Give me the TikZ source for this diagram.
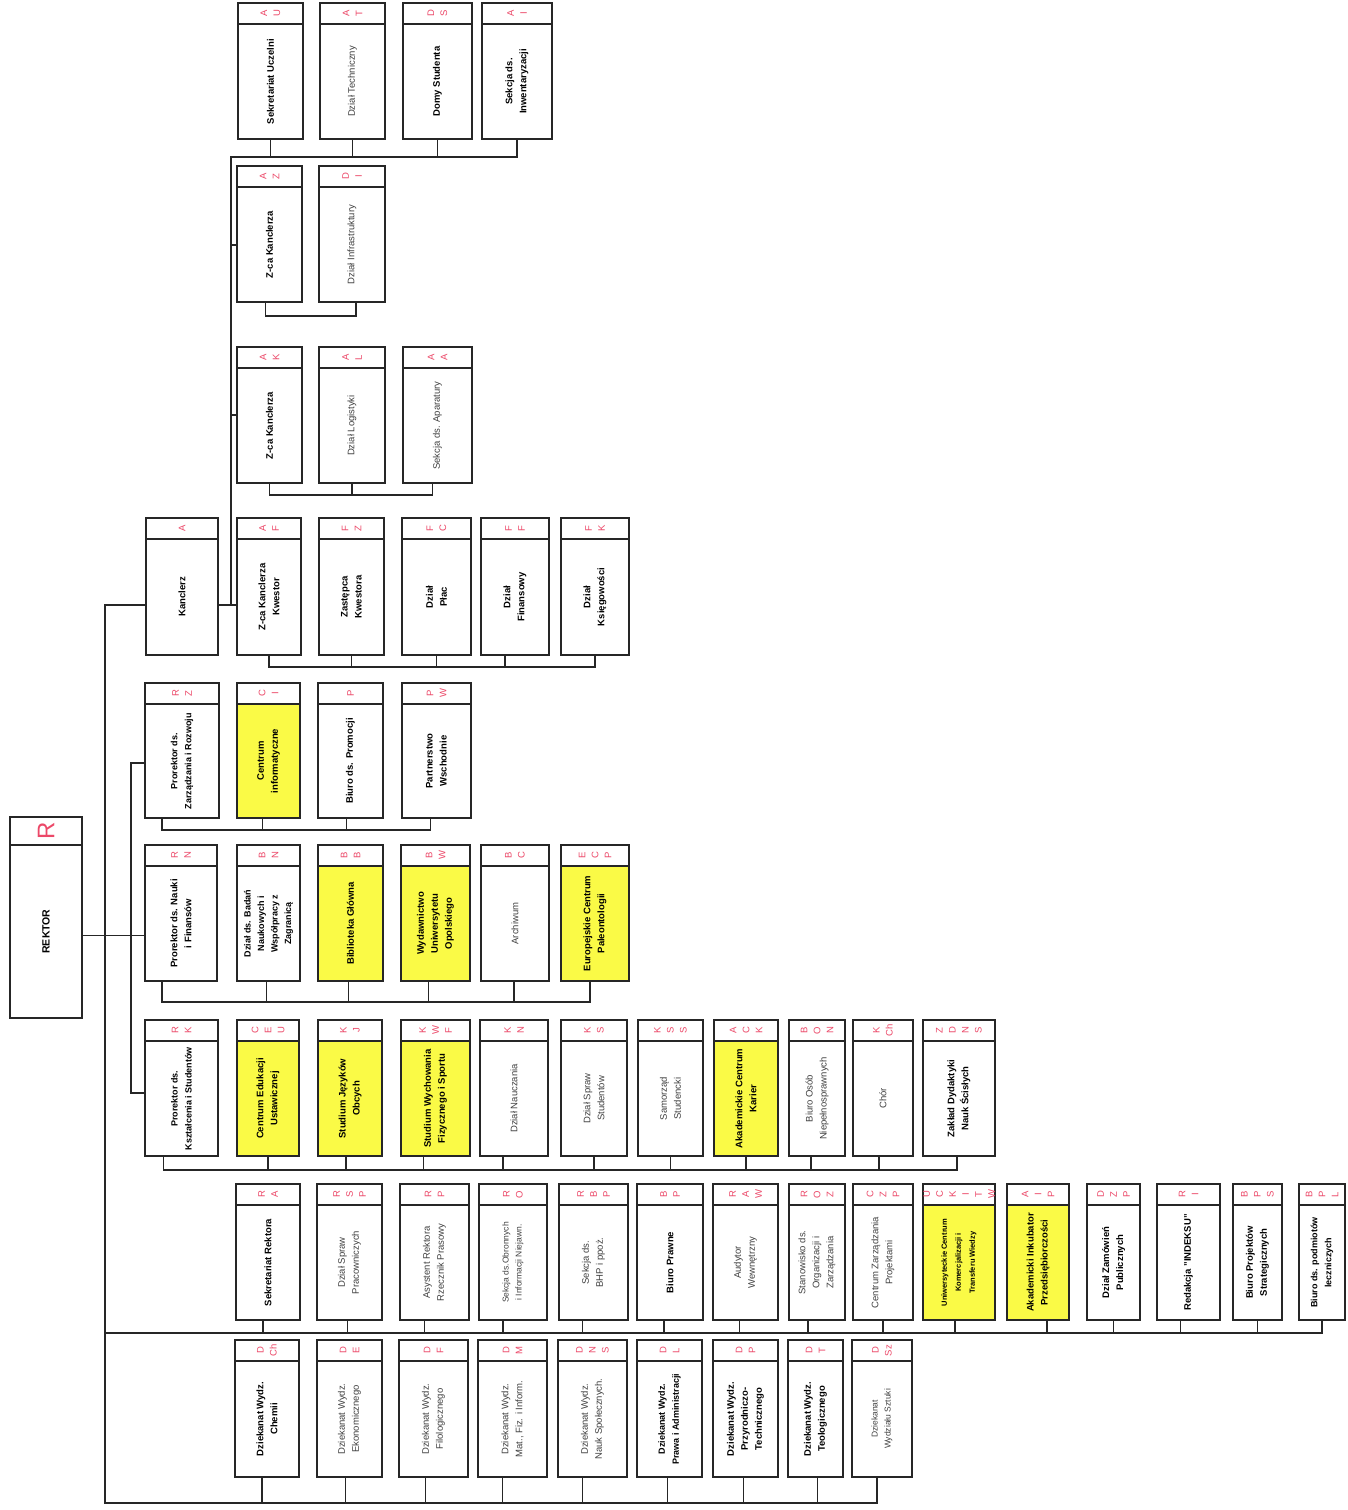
\documentclass[tikz,border=0pt]{standalone}
\usepackage{fontspec}
\setmainfont{Liberation Sans}
\usetikzlibrary{calc}

\definecolor{codered}{RGB}{236,72,104}
\definecolor{unityellow}{RGB}{250,250,70}

% fill, name, x1, x2, y1, y2, code, text style, text
\newcommand{\orgunit}[9][white]{%
  \fill[#1] (#3,{#5+21}) rectangle (#4,#6);
  \node[unitbox, minimum width={(#4-#3)*1pt}, minimum height={(#6-#5)*1pt}] (#2) at ({(#3+#4)/2},{(#5+#6)/2}) {};
  \draw[unitline] ([yshift=-21pt]#2.north west) -- ([yshift=-21pt]#2.north east);
  \node[codetext] at ([yshift=-10.5pt]#2.north) {#7};
  \node[#8] at ([yshift=-10.5pt]#2.center) {#9};
}

\begin{document}
\begin{tikzpicture}[
        x=1pt, y=-1pt,
        unitbox/.style={rectangle, draw=black!85, line width=2pt, inner sep=0pt, outer sep=0pt},
        unitline/.style={draw=black!85, line width=1.5pt},
        codetext/.style={rotate=90, align=center, text=codered, inner sep=0pt, font=\fontsize{9.5}{13}\selectfont},
        darktext/.style={rotate=90, align=center, inner sep=0pt, font=\bfseries\fontsize{9.5}{14}\selectfont},
        lighttext/.style={rotate=90, align=center, inner sep=0pt, text=black!75, font=\fontsize{9.5}{14}\selectfont},
        link/.style={draw=black!85, line width=1.4pt}
    ]

    \fill[white] (0,0) rectangle (1347,1510);
    \useasboundingbox (0,0) rectangle (1347,1510);

    % Rektor
    \node[unitbox, minimum width=72pt, minimum height=201pt] (rek) at (46,917.5) {};
    \draw[unitline] ([yshift=-28pt]rek.north west) -- ([yshift=-28pt]rek.north east);
    \node[rotate=90, text=codered, inner sep=0pt, font=\fontsize{24}{24}\selectfont] at ([yshift=-14pt]rek.north) {R};
    \node[darktext, font=\bfseries\fontsize{10.5}{12}\selectfont] at ([yshift=-14pt]rek.center) {REKTOR};

    % row 1
    \orgunit{su}{238}{303}{3}{139}{A\\U}{darktext}{Sekretariat Uczelni}
    \orgunit{dt}{320}{385}{3}{139}{A\\T}{lighttext}{Dział Techniczny}
    \orgunit{dst}{403}{472}{3}{139}{D\\S}{darktext}{Domy Studenta}
    \orgunit{si}{482}{552}{3}{139}{A\\I}{darktext}{Sekcja ds.\\Inwentaryzacji}

    % row 2
    \orgunit{az}{237}{302}{166}{302}{A\\Z}{darktext}{Z-ca Kanclerza}
    \orgunit{di}{319}{385}{166}{302}{D\\I}{lighttext}{Dział Infrastruktury}

    % row 3
    \orgunit{ak}{237}{302}{347}{483}{A\\K}{darktext}{Z-ca Kanclerza}
    \orgunit{al}{319}{385}{347}{483}{A\\L}{lighttext}{Dział Logistyki}
    \orgunit{aa}{403}{472}{347}{483}{A\\A}{lighttext}{Sekcja ds. Aparatury}

    % row 4
    \orgunit{kan}{146}{218}{518}{655}{A}{darktext}{Kanclerz}
    \orgunit{af}{237}{301}{518}{655}{A\\F}{darktext}{Z-ca Kanclerza\\Kwestor}
    \orgunit{fz}{319}{384}{518}{655}{F\\Z}{darktext}{Zastępca\\Kwestora}
    \orgunit{fc}{402}{471}{518}{655}{F\\C}{darktext}{Dział\\Płac}
    \orgunit{ff}{481}{549}{518}{655}{F\\F}{darktext}{Dział\\Finansowy}
    \orgunit{fk}{561}{629}{518}{655}{F\\K}{darktext}{Dział\\Księgowości}

    % row 5
    \orgunit{rz}{145}{219}{683}{818}{R\\Z}{darktext, font=\bfseries\fontsize{9}{14}\selectfont}{Prorektor ds.\\Zarządzania i Rozwoju}
    \orgunit[unityellow]{ci}{237}{300}{683}{818}{C\\I}{darktext}{Centrum\\informatyczne}
    \orgunit{pr}{318}{383}{683}{818}{P}{darktext}{Biuro ds. Promocji}
    \orgunit{pw}{402}{471}{683}{818}{P\\W}{darktext}{Partnerstwo\\Wschodnie}

    % row 6
    \orgunit{rn}{145}{217}{845}{981}{R\\N}{darktext}{Prorektor ds. Nauki\\i Finansów}
    \orgunit{bn}{237}{300}{845}{981}{B\\N}{darktext, font=\bfseries\fontsize{9}{13.5}\selectfont}{Dział ds. Badań\\Naukowych i\\Współpracy z\\Zagranicą}
    \orgunit[unityellow]{bb}{318}{383}{845}{981}{B\\B}{darktext}{Biblioteka Główna}
    \orgunit[unityellow]{bw}{401}{470}{845}{981}{B\\W}{darktext}{Wydawnictwo\\Uniwersytetu\\Opolskiego}
    \orgunit{bc}{481}{549}{845}{981}{B\\C}{lighttext}{Archiwum}
    \orgunit[unityellow]{ecp}{561}{629}{845}{981}{E\\C\\P}{darktext}{Europejskie Centrum\\Paleontologii}

    % row 7
    \orgunit{rk}{145}{218}{1020}{1156}{R\\K}{darktext, font=\bfseries\fontsize{9}{14}\selectfont}{Prorektor ds.\\Kształcenia i Studentów}
    \orgunit[unityellow]{ceu}{237}{299}{1020}{1156}{C\\E\\U}{darktext}{Centrum Edukacji\\Ustawicznej}
    \orgunit[unityellow]{kj}{318}{382}{1020}{1156}{K\\J}{darktext}{Studium Języków\\Obcych}
    \orgunit[unityellow]{kwf}{401}{470}{1020}{1156}{K\\W\\F}{darktext}{Studium Wychowania\\Fizycznego i Sportu}
    \orgunit{kn}{480}{548}{1020}{1156}{K\\N}{lighttext}{Dział Nauczania}
    \orgunit{ks}{561}{627}{1020}{1156}{K\\S}{lighttext}{Dział Spraw\\Studentów}
    \orgunit{kss}{638}{703}{1020}{1156}{K\\S\\S}{lighttext}{Samorząd\\Studencki}
    \orgunit[unityellow]{ack}{714}{778}{1020}{1156}{A\\C\\K}{darktext}{Akademickie Centrum\\Karier}
    \orgunit{bon}{789}{845}{1020}{1156}{B\\O\\N}{lighttext}{Biuro Osób\\Niepełnosprawnych}
    \orgunit{kch}{853}{913}{1020}{1156}{K\\Ch}{lighttext}{Chór}
    \orgunit{zdns}{923}{995}{1020}{1156}{Z\\D\\N\\S}{darktext}{Zakład Dydaktyki\\Nauk Ścisłych}

    % row 8
    \orgunit{ra}{236}{300}{1184}{1320}{R\\A}{darktext}{Sekretariat Rektora}
    \orgunit{rsp}{317}{382}{1184}{1320}{R\\S\\P}{lighttext}{Dział Spraw\\Pracowniczych}
    \orgunit{rp}{400}{469}{1184}{1320}{R\\P}{lighttext}{Asystent Rektora\\Rzecznik Prasowy}
    \orgunit{ro}{479}{547}{1184}{1320}{R\\O}{lighttext, font=\fontsize{8.5}{13}\selectfont}{Sekcja ds.Obronnych\\i Informacji Niejawn.}
    \orgunit{rbp}{559}{628}{1184}{1320}{R\\B\\P}{lighttext}{Sekcja ds.\\BHP i ppoż.}
    \orgunit{bpr}{637}{703}{1184}{1320}{B\\P}{darktext}{Biuro Prawne}
    \orgunit{raw}{713}{778}{1184}{1320}{R\\A\\W}{lighttext}{Audytor\\Wewnętrzny}
    \orgunit{roz}{789}{845}{1184}{1320}{R\\O\\Z}{lighttext}{Stanowisko ds.\\Organizacji i\\Zarządzania}
    \orgunit{czp}{853}{913}{1184}{1320}{C\\Z\\P}{lighttext}{Centrum Zarządzania\\Projektami}
    \orgunit[unityellow]{uckit}{923}{995}{1184}{1320}{U\\C\\K\\I\\T\\W}{darktext, font=\bfseries\fontsize{7.5}{14}\selectfont}{Uniwersyteckie Centrum\\Komercjalizacji i\\Transferu Wiedzy}
    \orgunit[unityellow]{aip}{1007}{1069}{1184}{1320}{A\\I\\P}{darktext}{Akademicki Inkubator\\Przedsiębiorczości}
    \orgunit{dzp}{1087}{1140}{1184}{1320}{D\\Z\\P}{darktext}{Dział Zamówień\\Publicznych}
    \orgunit{ri}{1157}{1220}{1184}{1320}{R\\I}{darktext}{Redakcja "INDEKSU"}
    \orgunit{bps}{1233}{1282}{1184}{1320}{B\\P\\S}{darktext}{Biuro Projektów\\Strategicznych}
    \orgunit{bpl}{1299}{1345}{1184}{1320}{B\\P\\L}{darktext, font=\bfseries\fontsize{9}{14}\selectfont}{Biuro ds. podmiotów\\leczniczych}

    % row 9
    \orgunit{dch}{235}{299}{1340}{1477}{D\\Ch}{darktext}{Dziekanat Wydz.\\Chemii}
    \orgunit{de}{317}{382}{1340}{1477}{D\\E}{lighttext}{Dziekanat Wydz.\\Ekonomicznego}
    \orgunit{df}{399}{468}{1340}{1477}{D\\F}{lighttext}{Dziekanat Wydz.\\Filologicznego}
    \orgunit{dm}{478}{547}{1340}{1477}{D\\M}{lighttext}{Dziekanat Wydz.\\Mat., Fiz. i Inform.}
    \orgunit{dns}{558}{627}{1340}{1477}{D\\N\\S}{lighttext}{Dziekanat Wydz.\\Nauk Społecznych.}
    \orgunit{dl}{637}{702}{1340}{1477}{D\\L}{darktext, font=\bfseries\fontsize{9}{14}\selectfont}{Dziekanat Wydz.\\Prawa i Administracji}
    \orgunit{dp}{713}{778}{1340}{1477}{D\\P}{darktext}{Dziekanat Wydz.\\Przyrodniczo-\\Technicznego}
    \orgunit{dtl}{788}{843}{1340}{1477}{D\\T}{darktext}{Dziekanat Wydz.\\Teologicznego}
    \orgunit{dsz}{852}{912}{1340}{1477}{D\\Sz}{lighttext, font=\fontsize{8.5}{13}\selectfont}{Dziekanat\\Wydziału Sztuki}

    % Kanclerz branch
    \coordinate (ktop) at (231,157);
    \coordinate (kjoin) at (231,605);
    \draw[link] (kan.east |- kjoin) -- (af.west |- kjoin);
    \draw[link] (kjoin) -- (ktop) -| (si.south);
    \foreach \nm in {su,dt,dst} \draw[link] (\nm.south) -- (\nm.south |- ktop);
    \coordinate (azin) at ([yshift=-11pt]az.west);
    \draw[link] (ktop |- azin) -- (azin);
    \draw[link] ([xshift=-4pt]az.south) -- ++(0,14) -| ([xshift=4pt]di.south);
    \draw[link] (ktop |- ak.west) -- (ak.west);
    \draw[link] (ak.south) -- ++(0,12) -| ([xshift=-5pt]aa.south);
    \draw[link] (al.south) -- ++(0,12);
    \draw[link] (af.south) -- ++(0,12) -| (fk.south);
    \foreach \nm/\sh in {fz/0,fc/0,ff/-10} \draw[link] ([xshift=\sh pt]\nm.south) -- ++(0,12);

    % main trunk
    \coordinate (mtop) at (105,605);
    \coordinate (mbot) at (105,1503);
    \draw[link] (kan.west |- mtop) -- (mtop) -- (mbot) -| ([xshift=-5pt]dsz.south);
    \coordinate (rjoin) at ([yshift=-18pt]rek.east);
    \draw[link] (rjoin) -- (rjoin -| rn.west);

    % prorektor trunk
    \coordinate (ptop) at (131,763);
    \coordinate (pbot) at (131,1093);
    \draw[link] (rz.west |- ptop) -- (ptop) -- (pbot) -- (rk.west |- pbot);

    \draw[link] ([xshift=-20pt]rz.south) -- ++(0,12) -| ([xshift=-6pt]pw.south);
    \foreach \nm/\sh in {ci/-6,pr/-4} \draw[link] ([xshift=\sh pt]\nm.south) -- ++(0,12);

    \draw[link] ([xshift=-19pt]rn.south) -- ++(0,21) -| ([xshift=-5pt]ecp.south);
    \foreach \nm/\sh in {bn/-2,bb/-2,bw/-7,bc/-1} \draw[link] ([xshift=\sh pt]\nm.south) -- ++(0,21);

    \draw[link] ([xshift=-18pt]rk.south) -- ++(0,14) -| ([xshift=-2pt]zdns.south);
    \foreach \nm/\sh in {ceu/0,kj/-4,kwf/-12,kn/-11,ks/0,kss/0,ack/0,bon/-6,kch/-4}
        \draw[link] ([xshift=\sh pt]\nm.south) -- ++(0,14);

    % rektor units
    \coordinate (rbus) at (105,1333);
    \draw[link] (rbus) -| (bpl.south);
    \foreach \nm/\sh in {ra/-5,rsp/-2,rp/-10,ro/-10,rbp/-11,bpr/-6,raw/-6,roz/-9,czp/0,uckit/-4,aip/9,dzp/0,ri/-8,bps/0}
        \draw[link] ([xshift=\sh pt]\nm.south) -- ++(0,13);

    % dziekanaty
    \foreach \nm/\sh in {dch/-5,de/-4,df/-8,dm/-10,dns/-10,dl/-2,dp/-2,dtl/2}
        \draw[link] ([xshift=\sh pt]\nm.south) -- ++(0,26);

\end{tikzpicture}
\end{document}
